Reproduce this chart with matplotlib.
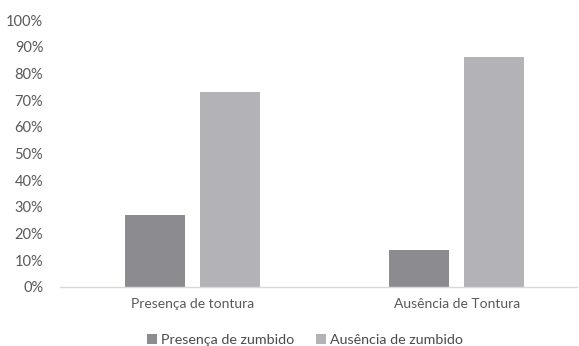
import matplotlib
matplotlib.use("Agg")
import matplotlib.pyplot as plt
import numpy as np

categories = ["Presença de tontura", "Ausência de Tontura"]
series_names = ["Presença de zumbido", "Ausência de zumbido"]
presenca_zumbido = [0.27, 0.14]
ausencia_zumbido = [0.73, 0.863]
yticks = [0, 0.1, 0.2, 0.3, 0.4, 0.5, 0.6, 0.7, 0.8, 0.9, 1.0]

plt.rcParams['font.family'] = ['Lato', 'DejaVu Sans']
txt = '#595959'

fig = plt.figure(figsize=(5.79, 3.46), dpi=100)
ax = fig.add_axes([60/579, 1-287/346, 517/579, 267/346])

x = np.arange(len(categories))
w = 0.227
off = 0.142
ax.bar(x - off, presenca_zumbido, w, color='#8c8c90', label=series_names[0])
ax.bar(x + off, ausencia_zumbido, w, color='#b3b3b7', label=series_names[1])

ax.set_xlim(-0.502, 1.456)
ax.set_ylim(0, 1.0)
ax.set_yticks(yticks)
ax.set_yticklabels([f"{int(round(v*100))}%" for v in yticks])
ax.set_xticks(x)
ax.set_xticklabels(categories)
ax.tick_params(axis='both', length=0, colors=txt, labelsize=10)
ax.tick_params(axis='y', pad=12, labelsize=10.5)
ax.tick_params(axis='x', pad=8)
for s in ['top', 'right', 'left']:
    ax.spines[s].set_visible(False)
ax.spines['bottom'].set_color('#d9d9d9')
ax.spines['bottom'].set_linewidth(1.0)

leg = fig.legend(loc='center', bbox_to_anchor=(305/579, 1-340/346), ncol=2, frameon=False,
                 fontsize=10.3, handlelength=0.7, handleheight=0.7, handletextpad=0.3,
                 columnspacing=1.5)
for t in leg.get_texts():
    t.set_color('#4a4a4a')

fig.savefig("out.png", dpi=100)
